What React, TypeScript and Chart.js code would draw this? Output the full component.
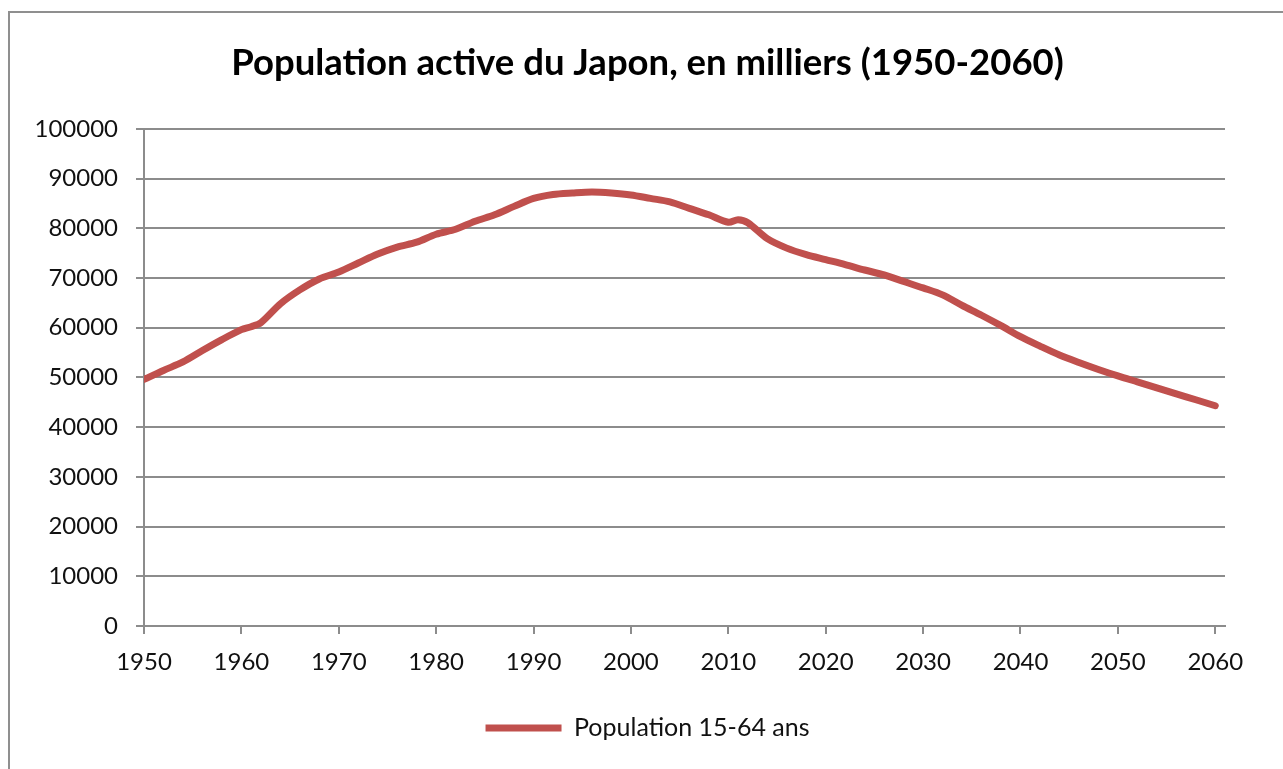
import { useEffect, useRef } from "react";
import { Chart, registerables } from "chart.js";

Chart.register(...registerables);

// Population aged 15-64 in Japan, thousands (observed + projection)
const years = [
  1950, 1952, 1954, 1956, 1958, 1960, 1961, 1962, 1964, 1966, 1968, 1970,
  1972, 1974, 1976, 1978, 1980, 1982, 1984, 1986, 1988, 1990, 1992, 1994,
  1996, 1998, 2000, 2002, 2004, 2006, 2008, 2010, 2011, 2012, 2014, 2016,
  2018, 2020, 2022, 2024, 2026, 2028, 2030, 2032, 2034, 2036, 2038, 2040,
  2042, 2044, 2046, 2048, 2050, 2052, 2054, 2056, 2058, 2060,
];
const workingAge = [
  49600, 51400, 53100, 55400, 57600, 59600, 60200, 61000, 64800, 67600,
  69800, 71200, 73000, 74800, 76200, 77200, 78800, 79800, 81400, 82700,
  84400, 86000, 86800, 87100, 87300, 87100, 86700, 86000, 85300, 84000,
  82700, 81200, 81700, 81100, 77900, 76000, 74700, 73700, 72700, 71600,
  70600, 69300, 68000, 66600, 64500, 62500, 60400, 58200, 56300, 54500,
  53000, 51600, 50300, 49100, 47900, 46700, 45500, 44300,
];
const xTickYears = [1950, 1960, 1970, 1980, 1990, 2000, 2010, 2020, 2030, 2040, 2050, 2060];

const titleText = "Population active du Japon, en milliers (1950-2060)";
const seriesLabel = "Population 15-64 ans";

const GRID = "#8c8c8c";
const LINE = "#C0504D";
const TEXT = "#111111";
const FONT = "Lato";

export default function App() {
  const canvasRef = useRef<HTMLCanvasElement | null>(null);

  useEffect(() => {
    const canvas = canvasRef.current;
    if (!canvas) return;
    const chart = new Chart(canvas, {
      type: "line",
      data: {
        datasets: [
          {
            label: seriesLabel,
            data: years.map((y, i) => ({ x: y, y: workingAge[i] })),
            borderColor: LINE,
            backgroundColor: LINE,
            borderWidth: 7,
            borderCapStyle: "round",
            borderJoinStyle: "round",
            pointRadius: 0,
            tension: 0.3,
            yAxisID: "y",
          },
        ],
      },
      options: {
        responsive: false,
        animation: false,
        layout: { padding: { left: 0, right: -12, top: 0, bottom: 18.5 } },
        plugins: {
          title: {
            display: true,
            text: titleText,
            color: "#000",
            font: { family: FONT, weight: "bold", size: 36.5 },
            padding: { top: 41, bottom: 44 },
          },
          legend: {
            position: "bottom",
            labels: {
              usePointStyle: true,
              pointStyle: "line",
              pointStyleWidth: 76,
              color: TEXT,
              font: { family: FONT, size: 25 },
              padding: 10,
            },
          },
          tooltip: { enabled: false },
        },
        scales: {
          x: {
            type: "linear",
            min: 1950,
            max: 2061,
            afterBuildTicks: (scale: any) => {
              scale.ticks = xTickYears.map((v) => ({ value: v }));
            },
            afterFit: (scale: any) => {
              scale.height = 79.5;
            },
            ticks: {
              color: TEXT,
              font: { family: FONT, size: 24 },
              padding: 14,
              maxRotation: 0,
              autoSkip: false,
              callback: (v: any) => String(v),
            },
            grid: { drawOnChartArea: false, drawTicks: true, tickLength: 8, color: GRID, lineWidth: 2 },
            border: { color: GRID, width: 2 },
          },
          y: {
            min: 0,
            max: 100000,
            afterFit: (scale: any) => {
              scale.width = 144;
            },
            ticks: {
              stepSize: 10000,
              color: TEXT,
              font: { family: FONT, size: 24 },
              padding: 18,
              callback: (v: any) => String(v),
            },
            grid: { color: GRID, lineWidth: 2, tickLength: 8 },
            border: { color: GRID, width: 2 },
          },
          // empty right-hand gutter keeping the plot clear of the frame edge
          gutter: {
            type: "linear",
            position: "right",
            afterFit: (scale: any) => {
              scale.width = 70;
            },
            ticks: { display: false },
            grid: { display: false },
            border: { display: false },
          },
        },
      },
    });
    return () => chart.destroy();
  }, []);

  return (
    <div
      style={{
        position: "fixed",
        left: 0,
        top: 0,
        width: 1283,
        height: 769,
        overflow: "hidden",
        background: "#fff",
      }}
    >
      <div
        style={{
          position: "absolute",
          left: 8,
          top: 11,
          width: 1400,
          height: 900,
          border: "2px solid #8f8f8f",
        }}
      />
      <canvas
        ref={canvasRef}
        width={1283}
        height={769}
        style={{ position: "absolute", left: 0, top: 0 }}
      />
    </div>
  );
}
